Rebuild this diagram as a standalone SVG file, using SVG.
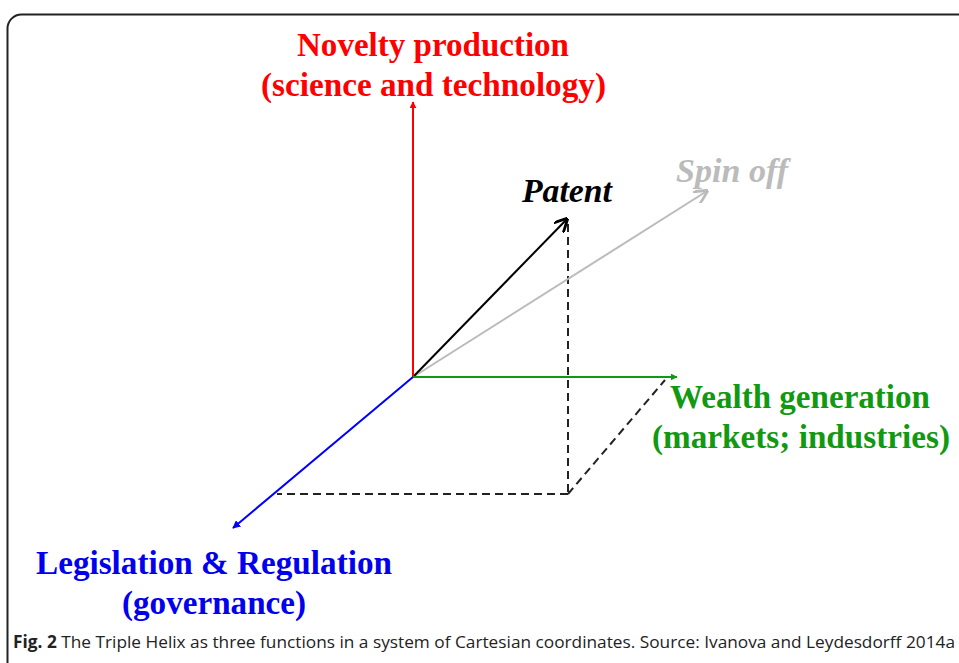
<svg xmlns="http://www.w3.org/2000/svg" width="959" height="663" viewBox="0 0 959 663">
<style>
.t{font-family:"Liberation Serif","Times New Roman",serif;font-weight:bold;font-size:33px}
.i{font-style:italic}
.cap{font-family:"Open Sans","Liberation Sans",sans-serif;font-size:17px;fill:#222}
.ax{fill:none;stroke-width:2}
.dash{fill:none;stroke:#222;stroke-width:2;stroke-dasharray:8 5}
</style>
<defs>
<marker id="mr" viewBox="0 0 10 10" refX="9" refY="5" markerWidth="7" markerHeight="7" orient="auto" markerUnits="userSpaceOnUse"><path d="M0,0 L10,5 L0,10 z" fill="#ff0000"/></marker>
<marker id="mg" viewBox="0 0 10 10" refX="9" refY="5" markerWidth="7" markerHeight="7" orient="auto" markerUnits="userSpaceOnUse"><path d="M0,0 L10,5 L0,10 z" fill="#119911"/></marker>
<marker id="mb" viewBox="0 0 10 10" refX="9" refY="5" markerWidth="8" markerHeight="8" orient="auto" markerUnits="userSpaceOnUse"><path d="M0,0 L10,5 L0,10 z" fill="#0000ff"/></marker>
<marker id="mk" viewBox="0 0 10 10" refX="9" refY="5" markerWidth="14" markerHeight="14" orient="auto" markerUnits="userSpaceOnUse"><path d="M0,0 L10,5 L0,10" fill="none" stroke="#000" stroke-width="2"/></marker>
<marker id="ms" viewBox="0 0 10 10" refX="9" refY="5" markerWidth="14" markerHeight="14" orient="auto" markerUnits="userSpaceOnUse"><path d="M0,0 L10,5 L0,10" fill="none" stroke="#bbbbbb" stroke-width="2"/></marker>
</defs>
<rect x="7.5" y="14.5" width="980" height="700" rx="14" fill="#fff" stroke="#222" stroke-width="2"/>
<g id="connectors">
<line class="dash" x1="568" y1="224" x2="568" y2="494"/>
<line class="dash" x1="568" y1="494" x2="277" y2="494"/>
<line class="dash" x1="568" y1="494" x2="665" y2="380"/>
<line class="ax" stroke="#bbbbbb" stroke-width="3" x1="413" y1="377" x2="707" y2="191" marker-end="url(#ms)"/>
<line class="ax" stroke="#000" stroke-width="3" x1="413" y1="377" x2="567" y2="219" marker-end="url(#mk)"/>
<line class="ax" stroke="#ff0000" x1="413" y1="377" x2="413" y2="102" marker-end="url(#mr)"/>
<line class="ax" stroke="#119911" x1="413" y1="377" x2="677" y2="377" marker-end="url(#mg)"/>
<line class="ax" stroke="#0000ff" x1="413" y1="377" x2="233" y2="528" marker-end="url(#mb)"/>
</g>
<g id="novelty">
<text class="t" fill="#ff0000" x="297" y="56" textLength="272" lengthAdjust="spacingAndGlyphs">Novelty production</text>
<text class="t" fill="#ff0000" x="261" y="96" textLength="345" lengthAdjust="spacingAndGlyphs">(science and technology)</text>
</g>
<g id="patent">
<text class="t i" fill="#000" x="522" y="202" textLength="90" lengthAdjust="spacingAndGlyphs">Patent</text>
</g>
<g id="spinoff">
<text class="t i" fill="#bbbbbb" x="676" y="182" textLength="112" lengthAdjust="spacingAndGlyphs">Spin off</text>
</g>
<g id="wealth">
<text class="t" fill="#119911" x="670" y="408" textLength="260" lengthAdjust="spacingAndGlyphs">Wealth generation</text>
<text class="t" fill="#119911" x="652" y="448" textLength="298" lengthAdjust="spacingAndGlyphs">(markets; industries)</text>
</g>
<g id="legislation">
<text class="t" fill="#0000ee" x="36" y="574" textLength="356" lengthAdjust="spacingAndGlyphs">Legislation &amp; Regulation</text>
<text class="t" fill="#0000ee" x="122" y="614" textLength="184" lengthAdjust="spacingAndGlyphs">(governance)</text>
</g>
<g id="caption">
<text class="cap" x="13" y="648" textLength="942" lengthAdjust="spacingAndGlyphs"><tspan font-weight="bold">Fig. 2</tspan> The Triple Helix as three functions in a system of Cartesian coordinates. Source: Ivanova and Leydesdorff 2014a</text>
</g>
</svg>
